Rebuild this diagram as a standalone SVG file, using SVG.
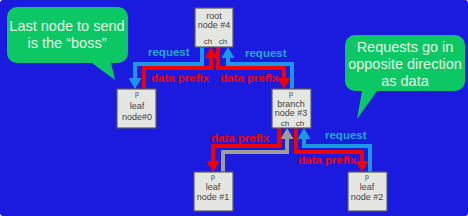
<svg xmlns="http://www.w3.org/2000/svg" width="468" height="216" viewBox="0 0 468 216">
<style>
.node rect{fill:#e4e6e2;stroke:#5a5a5a;stroke-width:1.2}
.nt{font-family:"Liberation Sans",Arial,sans-serif;font-size:9px;fill:#444;text-anchor:middle}
.pt{font-family:"Liberation Sans",Arial,sans-serif;font-size:7px;fill:#444;text-anchor:middle}
.ct{font-family:"Liberation Sans",Arial,sans-serif;font-size:8px;fill:#444;text-anchor:middle}
.call path{fill:#0cc864}
.callt{font-family:"Liberation Sans",Arial,sans-serif;font-size:14.5px;fill:#e6f4e6;text-anchor:middle}
.red{fill:none;stroke:#f00000;stroke-width:4;marker-end:url(#ar)}
.blue{fill:none;stroke:#1c96e6;stroke-width:4;marker-end:url(#ab)}
.gray{fill:none;stroke:#9c9c9c;stroke-width:4;marker-end:url(#ag)}
.lr{font-family:"Liberation Sans",Arial,sans-serif;font-size:11.5px;font-weight:bold;fill:#f00000}
.lb{font-family:"Liberation Sans",Arial,sans-serif;font-size:11.5px;font-weight:bold;fill:#20a8d0}
</style>
<defs>
<marker id="ar" markerUnits="userSpaceOnUse" markerWidth="12" markerHeight="13" refX="0" refY="6.5" orient="auto" viewBox="0 0 12 13"><path d="M0,0L11,6.5L0,13z" fill="#f00000"/></marker>
<marker id="ab" markerUnits="userSpaceOnUse" markerWidth="12" markerHeight="13" refX="0" refY="6.5" orient="auto" viewBox="0 0 12 13"><path d="M0,0L11,6.5L0,13z" fill="#1c96e6"/></marker>
<marker id="ag" markerUnits="userSpaceOnUse" markerWidth="12" markerHeight="13" refX="0" refY="6.5" orient="auto" viewBox="0 0 12 13"><path d="M0,0L11,6.5L0,13z" fill="#9c9c9c"/></marker>
</defs>
<rect x="0" y="0" width="468" height="216" rx="3" fill="#1b1bdf"/>

<g id="callout-boss" class="call">
<path d="M17,7H118A10,10 0 0 1 128,17V53A10,10 0 0 1 118,63H111L115,80L92,63H17A10,10 0 0 1 7,53V17A10,10 0 0 1 17,7Z"/>
<text class="callt" x="67" y="31">Last node to send</text>
<text class="callt" x="67" y="48">is the “boss”</text>
</g>
<g id="callout-requests" class="call">
<path d="M355,35H455A10,10 0 0 1 465,45V81A10,10 0 0 1 455,91H377L357,119L362,91H355A10,10 0 0 1 345,81V45A10,10 0 0 1 355,35Z"/>
<text class="callt" x="405" y="52">Requests go in</text>
<text class="callt" x="405" y="69">opposite direction</text>
<text class="callt" x="405" y="86">as data</text>
</g>

<g id="connectors">
<polyline class="blue" points="202,47 202,64 135,64 135,78"/>
<polyline class="red" points="144,89 144,68 211,68 211,58"/>
<polyline class="red" points="218,47 218,68 284,68 284,78"/>
<polyline class="blue" points="292,89 292,64 228,64 228,58"/>
<polyline class="red" points="279,128 279,146 213,146 213,161"/>
<polyline class="gray" points="223,172 223,152 287,152 287,139"/>
<polyline class="blue" points="370,172 370,146 304,146 304,139"/>
<polyline class="red" points="296,128 296,152 362,152 362,161"/>
<text class="lb" x="148" y="56">request</text>
<text class="lr" x="151" y="82">data prefix</text>
<text class="lr" x="220" y="82">data prefix</text>
<text class="lb" x="245" y="57">request</text>
<text class="lr" x="211" y="142">data prefix</text>
<text class="lb" x="325" y="139">request</text>
<text class="lr" x="298" y="164">data prefix</text>
</g>

<g id="root" class="node">
<rect x="195" y="8" width="38" height="39"/>
<text class="nt" x="214" y="19">root</text>
<text class="nt" x="214" y="28">node #4</text>
<text class="ct" x="208" y="44">ch</text>
<text class="ct" x="223" y="44">ch</text>
</g>
<g id="leaf0" class="node">
<rect x="117" y="89" width="39" height="39"/>
<text class="pt" x="137" y="96">p</text>
<text class="nt" x="137" y="109">leaf</text>
<text class="nt" x="137" y="120">node#0</text>
</g>
<g id="branch3" class="node">
<rect x="272" y="89" width="39" height="39"/>
<text class="pt" x="291" y="96">p</text>
<text class="nt" x="291" y="107">branch</text>
<text class="nt" x="291" y="116">node #3</text>
<text class="ct" x="285" y="126">ch</text>
<text class="ct" x="300" y="126">ch</text>
</g>
<g id="leaf1" class="node">
<rect x="194" y="172" width="39" height="39"/>
<text class="pt" x="213" y="179">p</text>
<text class="nt" x="213" y="190">leaf</text>
<text class="nt" x="213" y="200">node #1</text>
</g>
<g id="leaf2" class="node">
<rect x="348" y="172" width="39" height="39"/>
<text class="pt" x="367" y="179">p</text>
<text class="nt" x="367" y="190">leaf</text>
<text class="nt" x="367" y="200">node #2</text>
</g>
</svg>
